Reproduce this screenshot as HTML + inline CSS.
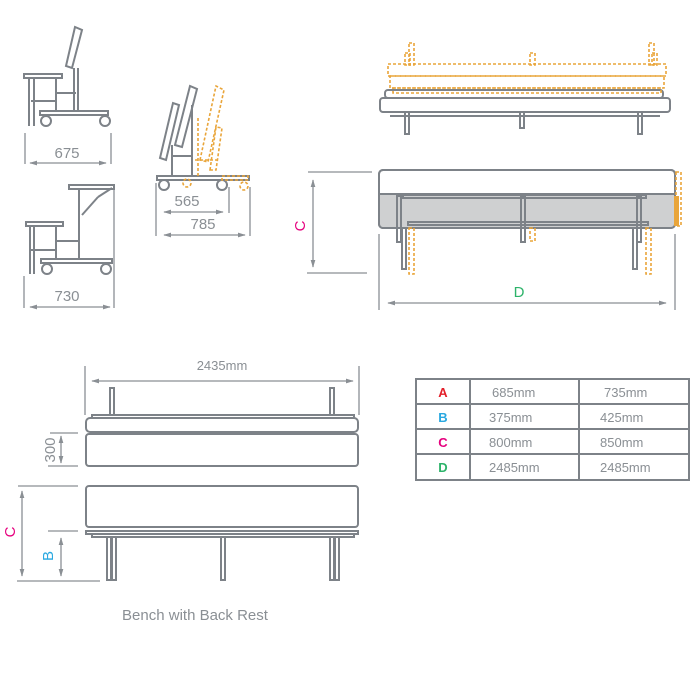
<!DOCTYPE html>
<html><head><style>
html,body{margin:0;padding:0;background:#fff;}
svg{display:block;}
text{font-family:"Liberation Sans",sans-serif;}
</style></head><body>
<svg width="699" height="699" viewBox="0 0 699 699" xmlns="http://www.w3.org/2000/svg">
<defs>
<marker id="ar" viewBox="0 0 10 10" refX="9" refY="5" markerWidth="6" markerHeight="6" orient="auto-start-reverse"><path d="M0,2 L10,5 L0,8 z" fill="#8a8f94"/></marker>
</defs>
<g fill="none" stroke="#7d8288" stroke-width="2">
<!-- Chair 1 -->
<rect x="24" y="74" width="38" height="4"/>
<line x1="29" y1="78" x2="29" y2="126"/><line x1="34" y1="78" x2="34" y2="126"/>
<line x1="56" y1="78" x2="56" y2="110"/>
<line x1="31" y1="101" x2="56" y2="101"/>
<line x1="57" y1="93" x2="76" y2="93"/>
<line x1="74" y1="68" x2="74" y2="110"/><line x1="78" y1="68" x2="78" y2="110"/>
<polygon points="66,66 75,27 82,30 72,68"/>
<rect x="40" y="111" width="68" height="4"/>
<circle cx="46" cy="121" r="5"/><circle cx="105" cy="121" r="5"/>
<!-- Chair 2 -->
<rect x="69" y="185" width="45" height="4"/>
<line x1="79" y1="189" x2="79" y2="260"/><line x1="98" y1="197" x2="112" y2="188"/><line x1="82" y1="215" x2="98" y2="197"/>
<rect x="26" y="222" width="37" height="4"/>
<line x1="30" y1="226" x2="30" y2="274"/><line x1="34" y1="226" x2="34" y2="274"/>
<line x1="56" y1="226" x2="56" y2="258"/>
<line x1="31" y1="250" x2="56" y2="250"/>
<line x1="57" y1="241" x2="78" y2="241"/>
<rect x="41" y="259" width="71" height="4"/>
<circle cx="47" cy="269" r="5"/><circle cx="106" cy="269" r="5"/>
<!-- Folded chair -->
<rect x="157" y="176" width="92" height="4"/>
<circle cx="164" cy="185" r="5"/><circle cx="222" cy="185" r="5"/>
<polygon points="160,158 173,103 179,105 166,160"/>
<polygon points="175,145 190,86 197,89 182,147"/>
<line x1="172" y1="145" x2="172" y2="176"/><line x1="192" y1="105" x2="192" y2="176"/>
<line x1="172" y1="156" x2="192" y2="156"/>
<!-- Top right bench -->
<rect x="385" y="90" width="278" height="8" rx="3"/>
<rect x="380" y="98" width="290" height="14" rx="3"/>
<line x1="390" y1="116" x2="660" y2="116"/>
<rect x="405" y="112" width="4" height="22"/><rect x="638" y="112" width="4" height="22"/><rect x="520" y="112" width="4" height="16"/>
<!-- Lower right bench -->
<rect x="379" y="170" width="296" height="58" rx="4"/>
<rect x="403" y="195" width="243" height="3"/>
<rect x="408" y="222" width="240" height="3"/>
<rect x="397" y="196" width="4" height="46"/><rect x="402" y="225" width="4" height="44"/>
<rect x="521" y="196" width="4" height="46"/>
<rect x="637" y="196" width="4" height="46"/><rect x="633" y="225" width="4" height="44"/>
<!-- Bottom bench -->
<rect x="86" y="418" width="272" height="14" rx="4"/>
<rect x="92" y="415" width="262" height="3"/>
<rect x="86" y="434" width="272" height="32" rx="3"/>
<rect x="86" y="486" width="272" height="41" rx="3"/>
<rect x="86" y="531" width="272" height="3"/>
<rect x="92" y="534" width="262" height="3"/>
<rect x="110" y="388" width="4" height="27"/><rect x="330" y="388" width="4" height="27"/>
<rect x="107" y="537" width="4" height="43"/><rect x="112" y="537" width="4" height="43"/>
<rect x="221" y="537" width="4" height="43"/>
<rect x="330" y="537" width="4" height="43"/><rect x="335" y="537" width="4" height="43"/>
</g>
<g fill="#cfd0d1" stroke="none"><rect x="380" y="195" width="294" height="32"/></g>
<g fill="none" stroke="#7d8288" stroke-width="2">
<rect x="379" y="170" width="296" height="58" rx="4"/>
<line x1="379" y1="194" x2="675" y2="194"/>
<rect x="403" y="195" width="243" height="3"/>
<rect x="408" y="222" width="240" height="3"/>
<rect x="397" y="196" width="4" height="46"/><rect x="521" y="196" width="4" height="46"/><rect x="637" y="196" width="4" height="46"/>
</g>
<!-- orange dashed -->
<g fill="none" stroke="#e9a53a" stroke-width="1.6" stroke-dasharray="3,2">
<rect x="388" y="64" width="278" height="12"/>
<rect x="390" y="76" width="274" height="12"/>
<rect x="393" y="88" width="268" height="5"/>
<rect x="409" y="43" width="5" height="22"/><rect x="405" y="53" width="5" height="12"/>
<rect x="649" y="43" width="5" height="22"/><rect x="652" y="53" width="5" height="12"/>
<rect x="530" y="53" width="5" height="12"/>
<rect x="676" y="172" width="5" height="54"/>
<rect x="409" y="228" width="5" height="46"/><rect x="530" y="228" width="5" height="13"/><rect x="646" y="228" width="5" height="46"/>
<polygon points="200,160 216,86 224,90 208,162"/>
<polygon points="210,170 216,127 222,128 216,170"/>
<line x1="195" y1="160" x2="218" y2="160"/>
<line x1="198" y1="118" x2="198" y2="176"/>
<rect x="222" y="176" width="26" height="4"/>
<circle cx="187" cy="183" r="4"/><circle cx="244" cy="186" r="4"/>
</g>
<rect x="674" y="196" width="5" height="30" fill="#e9a53a"/>
<!-- dimension lines -->
<g stroke="#8a8f94" stroke-width="1.3" fill="none">
<line x1="25" y1="133" x2="25" y2="164"/><line x1="111" y1="133" x2="111" y2="164"/>
<line x1="30" y1="163" x2="106" y2="163" marker-start="url(#ar)" marker-end="url(#ar)"/>
<line x1="24" y1="276" x2="24" y2="308"/><line x1="114" y1="190" x2="114" y2="308"/>
<line x1="30" y1="307" x2="110" y2="307" marker-start="url(#ar)" marker-end="url(#ar)"/>
<line x1="156" y1="183" x2="156" y2="236"/><line x1="229" y1="187" x2="229" y2="213"/><line x1="250" y1="187" x2="250" y2="236"/>
<line x1="164" y1="212" x2="223" y2="212" marker-start="url(#ar)" marker-end="url(#ar)"/>
<line x1="164" y1="235" x2="245" y2="235" marker-start="url(#ar)" marker-end="url(#ar)"/>
<line x1="308" y1="172" x2="372" y2="172"/><line x1="307" y1="273" x2="367" y2="273"/>
<line x1="313" y1="180" x2="313" y2="267" marker-start="url(#ar)" marker-end="url(#ar)"/>
<line x1="379" y1="234" x2="379" y2="310"/><line x1="675" y1="234" x2="675" y2="310"/>
<line x1="388" y1="303" x2="666" y2="303" marker-start="url(#ar)" marker-end="url(#ar)"/>
<line x1="85" y1="366" x2="85" y2="415"/><line x1="359" y1="366" x2="359" y2="415"/>
<line x1="92" y1="381" x2="353" y2="381" marker-start="url(#ar)" marker-end="url(#ar)"/>
<line x1="50" y1="433" x2="78" y2="433"/><line x1="48" y1="466" x2="78" y2="466"/>
<line x1="61" y1="436" x2="61" y2="463" marker-start="url(#ar)" marker-end="url(#ar)"/>
<line x1="18" y1="486" x2="78" y2="486"/><line x1="48" y1="531" x2="78" y2="531"/><line x1="17" y1="581" x2="100" y2="581"/>
<line x1="22" y1="491" x2="22" y2="576" marker-start="url(#ar)" marker-end="url(#ar)"/>
<line x1="61" y1="538" x2="61" y2="576" marker-start="url(#ar)" marker-end="url(#ar)"/>
</g>
<g fill="#8a8f94" font-size="15" text-anchor="middle">
<text x="67" y="158">675</text>
<text x="67" y="301">730</text>
<text x="187" y="206">565</text>
<text x="203" y="229">785</text>
<text x="222" y="370" font-size="13">2435mm</text>
<text x="195" y="620" font-size="15">Bench with Back Rest</text>
<text transform="translate(55,450) rotate(-90)" font-size="15">300</text>
</g>
<text transform="translate(305,226) rotate(-90)" fill="#e6007e" font-size="15" text-anchor="middle">C</text>
<text transform="translate(15,532) rotate(-90)" fill="#e6007e" font-size="15" text-anchor="middle">C</text>
<text transform="translate(53,556) rotate(-90)" fill="#29a8e0" font-size="15" text-anchor="middle">B</text>
<text x="519" y="297" fill="#2db36a" font-size="15" text-anchor="middle">D</text>
<!-- table -->
<g stroke="#7d8288" stroke-width="2" fill="none">
<rect x="416" y="379" width="273" height="101"/>
<line x1="416" y1="404" x2="689" y2="404"/><line x1="416" y1="429" x2="689" y2="429"/><line x1="416" y1="454" x2="689" y2="454"/>
<line x1="470" y1="379" x2="470" y2="480"/><line x1="579" y1="379" x2="579" y2="480"/>
</g>
<g font-size="13" text-anchor="middle" font-weight="bold">
<text x="443" y="397" fill="#e3202a">A</text>
<text x="443" y="422" fill="#29a8e0">B</text>
<text x="443" y="447" fill="#e6007e">C</text>
<text x="443" y="472" fill="#2db36a">D</text>
</g>
<g font-size="13" fill="#8a8f94">
<text x="492" y="397">685mm</text><text x="604" y="397">735mm</text>
<text x="489" y="422">375mm</text><text x="600" y="422">425mm</text>
<text x="489" y="447">800mm</text><text x="600" y="447">850mm</text>
<text x="489" y="472">2485mm</text><text x="600" y="472">2485mm</text>
</g>
</svg>
</body></html>
